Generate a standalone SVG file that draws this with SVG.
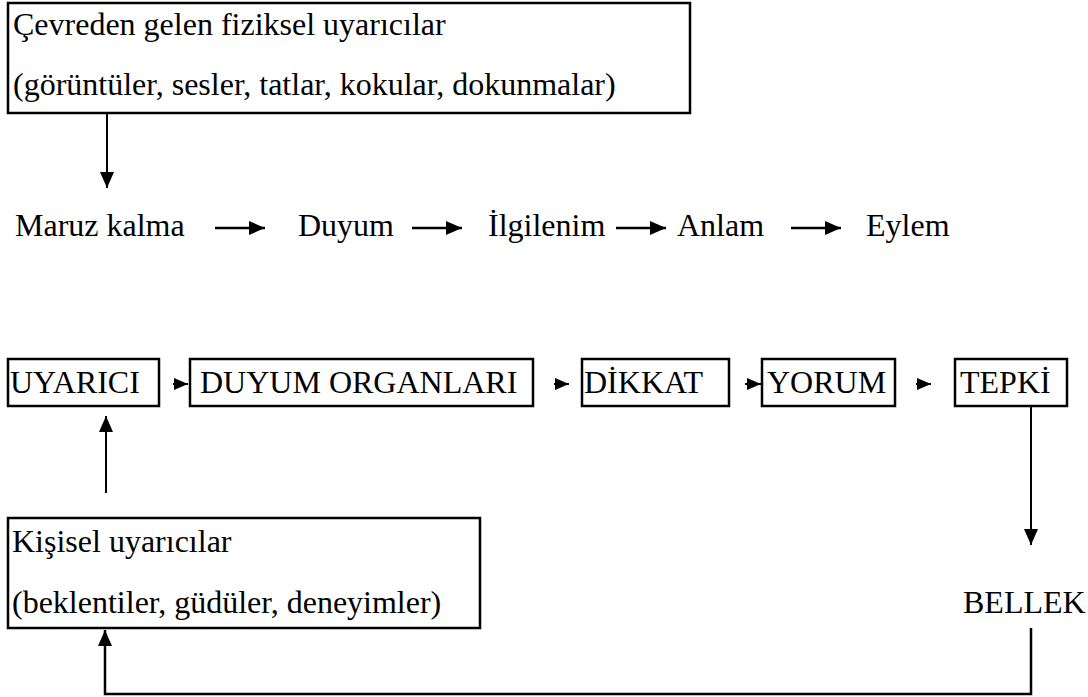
<svg xmlns="http://www.w3.org/2000/svg" width="1088" height="697" viewBox="0 0 1088 697">
<style>
text{font-family:"Liberation Serif","Times New Roman",serif;font-size:32px;fill:#000}
.box{fill:#fff;stroke:#000;stroke-width:2.5}
.ln{fill:none;stroke:#000;stroke-width:2}
.thick{fill:none;stroke:#000;stroke-width:2.5}
</style>
<defs>
<marker id="ah" markerUnits="userSpaceOnUse" markerWidth="16" markerHeight="14" refX="16" refY="7" orient="auto">
<path d="M0,0 L16,7 L0,14 Z" fill="#000"/>
</marker>
<marker id="ahs" markerUnits="userSpaceOnUse" markerWidth="14" markerHeight="14" refX="14" refY="7" orient="auto">
<path d="M0,1 L14,7 L0,13 Z" fill="#000"/>
</marker>
</defs>
<rect width="1088" height="697" fill="#fff"/>

<g id="connectors">
<line class="ln" x1="107" y1="113" x2="107" y2="188" marker-end="url(#ah)"/>
<line class="thick" x1="215" y1="228" x2="265" y2="228" marker-end="url(#ah)"/>
<line class="thick" x1="412" y1="228" x2="462" y2="228" marker-end="url(#ah)"/>
<line class="thick" x1="616" y1="228" x2="666" y2="228" marker-end="url(#ah)"/>
<line class="thick" x1="791" y1="228" x2="841" y2="228" marker-end="url(#ah)"/>
<line class="ln" x1="173" y1="384" x2="188" y2="384" marker-end="url(#ahs)"/>
<line class="ln" x1="554" y1="384" x2="569" y2="384" marker-end="url(#ahs)"/>
<line class="ln" x1="745" y1="384" x2="761" y2="384" marker-end="url(#ahs)"/>
<line class="ln" x1="916" y1="384" x2="931" y2="384" marker-end="url(#ahs)"/>
<line class="ln" x1="106" y1="493" x2="106" y2="416" marker-end="url(#ah)"/>
<line class="ln" x1="1031" y1="406" x2="1031" y2="545" marker-end="url(#ah)"/>
<polyline class="thick" points="1031,628 1031,694 105,694 105,630" marker-end="url(#ah)"/>
</g>

<g id="node-cevre">
<rect class="box" x="8" y="3" width="682" height="110"/>
<text x="13" y="35">Çevreden gelen fiziksel uyarıcılar</text>
<text x="13" y="95">(görüntüler, sesler, tatlar, kokular, dokunmalar)</text>
</g>

<g id="node-maruz"><text x="15" y="236">Maruz kalma</text></g>
<g id="node-duyum"><text x="298" y="236">Duyum</text></g>
<g id="node-ilgilenim"><text x="488" y="236">İlgilenim</text></g>
<g id="node-anlam"><text x="677" y="236">Anlam</text></g>
<g id="node-eylem"><text x="866" y="236">Eylem</text></g>

<g id="node-uyarici">
<rect class="box" x="8" y="359" width="151" height="47"/>
<text x="10" y="393">UYARICI</text>
</g>
<g id="node-duyum-organlari">
<rect class="box" x="190" y="359" width="343" height="47"/>
<text x="200" y="393">DUYUM ORGANLARI</text>
</g>
<g id="node-dikkat">
<rect class="box" x="582" y="359" width="147" height="47"/>
<text x="584" y="393">DİKKAT</text>
</g>
<g id="node-yorum">
<rect class="box" x="762" y="359" width="133" height="47"/>
<text x="767" y="393">YORUM</text>
</g>
<g id="node-tepki">
<rect class="box" x="955" y="359" width="112" height="47"/>
<text x="960" y="393">TEPKİ</text>
</g>

<g id="node-kisisel">
<rect class="box" x="8" y="518" width="472" height="110"/>
<text x="12" y="552">Kişisel uyarıcılar</text>
<text x="12" y="613">(beklentiler, güdüler, deneyimler)</text>
</g>

<g id="node-bellek"><text x="963" y="613">BELLEK</text></g>
</svg>
